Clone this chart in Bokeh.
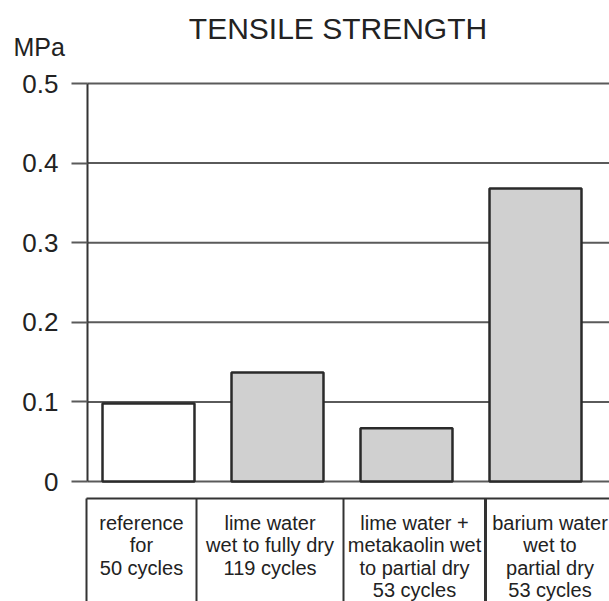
from bokeh.plotting import figure
from bokeh.models import FixedTicker, Range1d
from bokeh.core.properties import value
from bokeh.embed import file_html
from bokeh.resources import INLINE

# ---- data ----
categories = [
    "reference\nfor\n50 cycles",
    "lime water\nwet to fully dry\n119 cycles",
    "lime water +\nmetakaolin wet\nto partial dry\n53 cycles",
    "barium water\nwet to\npartial dry\n53 cycles",
]
tensile_mpa = [0.098, 0.137, 0.067, 0.368]
bar_fills = ["#ffffff", "#d0d0d0", "#d0d0d0", "#d0d0d0"]
y_ticks = [0, 0.1, 0.2, 0.3, 0.4, 0.5]
y_tick_labels = ["0", "0.1", "0.2", "0.3", "0.4", "0.5"]
title_text = "TENSILE STRENGTH"
unit_text = "MPa"

# ---- layout (frame fills the whole canvas) ----
W, H = 609, 601
PX_PER_CAT = 129.0
PX_PER_UNIT = 796.0
x0_page, zero_page = 148.0, 481.0
def xd(px):
    return (px - x0_page) / PX_PER_CAT
def yd(py):
    return (zero_page - py) / PX_PER_UNIT

FONT = "Liberation Sans"
INK = "#222222"
GRID = "#5a5a5a"

p = figure(width=W, height=H, output_backend="svg", toolbar_location=None,
           x_axis_location=None, x_range=Range1d(xd(0), xd(W)),
           y_range=Range1d(yd(H), yd(0)), min_border=0)
p.outline_line_color = None
p.background_fill_color = "white"
p.border_fill_color = "white"

# y axis drawn at a fixed position inside the canvas
ax = p.yaxis[0]
ax.fixed_location = xd(87)
ax.ticker = FixedTicker(ticks=y_ticks)
ax.major_label_overrides = {t: l for t, l in zip(y_ticks, y_tick_labels)}
ax.bounds = (0, 0.5)
ax.axis_line_color = "#333333"
ax.axis_line_width = 2
ax.major_tick_out = 16
ax.major_tick_in = 0
ax.major_tick_line_color = GRID
ax.major_tick_line_width = 2
ax.minor_tick_line_color = None
ax.major_label_standoff = 13
ax.major_label_text_font = FONT
ax.major_label_text_font_size = "26px"
ax.major_label_text_color = INK

p.xgrid.visible = False
p.ygrid.visible = False

# horizontal grid lines from the axis to the right edge, at the tick values
p.segment(x0=[xd(87)] * len(y_ticks), y0=y_ticks, x1=[xd(W)] * len(y_ticks), y1=y_ticks,
          line_color=GRID, line_width=2)

# bars
xs = list(range(len(tensile_mpa)))
p.vbar(x=xs, top=tensile_mpa, bottom=0, width=0.713, fill_color=bar_fills,
       line_color="#2a2a2a", line_width=2.5)

# category table below
bounds = [xd(86), xd(196), xd(343), xd(485), xd(614)]
box_top = yd(498)
p.segment(x0=[bounds[0]], y0=[box_top], x1=[xd(W)], y1=[box_top],
          line_color="#333333", line_width=2)
p.segment(x0=bounds[:4], y0=[box_top] * 4, x1=bounds[:4], y1=[yd(H)] * 4,
          line_color="#333333", line_width=[2, 2, 2, 3])
centers = [(bounds[i] + bounds[i + 1]) / 2 for i in range(4)]
p.text(x=centers, y=[yd(511)] * 4, text=categories, text_align="center",
       text_baseline="top", text_font=value(FONT), text_font_size="20px",
       text_line_height=1.03, text_color=INK)

# title and unit
p.text(x=[xd(337.5)], y=[yd(11)], text=[title_text], text_align="center",
       text_baseline="top", text_font=value(FONT), text_font_size="30px",
       text_color=INK)
p.text(x=[xd(13)], y=[yd(32)], text=[unit_text], text_align="left",
       text_baseline="top", text_font=value(FONT), text_font_size="25px",
       text_color=INK)

open("out.html", "w").write(file_html(p, INLINE))
